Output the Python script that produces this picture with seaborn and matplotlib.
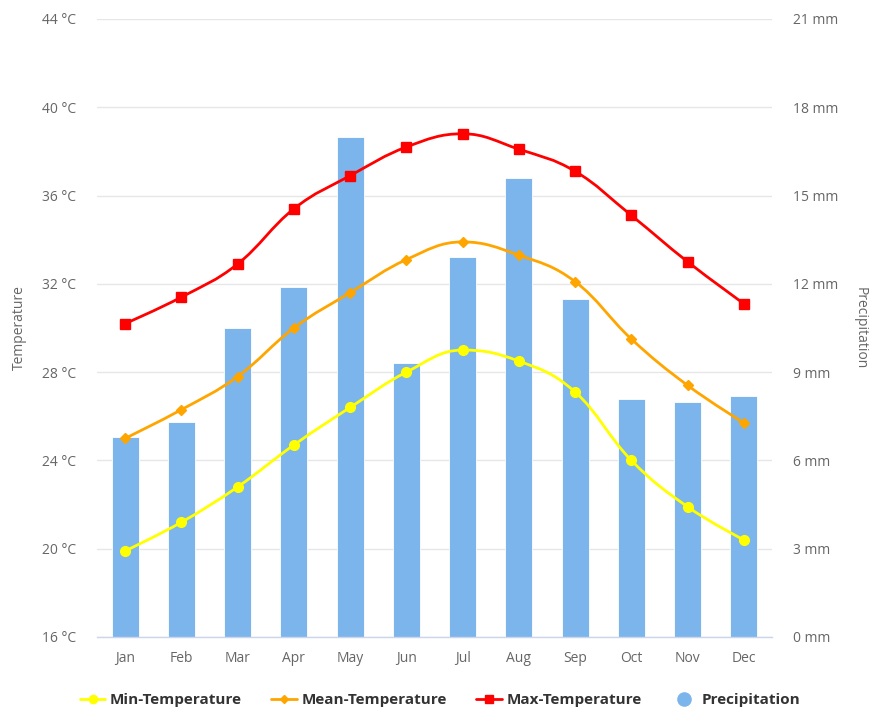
import matplotlib
matplotlib.use("Agg")
import matplotlib.pyplot as plt
import seaborn as sns
import numpy as np
from matplotlib.path import Path
from matplotlib.patches import PathPatch
from matplotlib.lines import Line2D

months = ["Jan", "Feb", "Mar", "Apr", "May", "Jun", "Jul", "Aug", "Sep", "Oct", "Nov", "Dec"]
min_temp = [19.9, 21.2, 22.8, 24.7, 26.4, 28.0, 29.0, 28.5, 27.1, 24.0, 21.9, 20.4]
mean_temp = [25.0, 26.3, 27.8, 30.0, 31.6, 33.1, 33.9, 33.3, 32.1, 29.5, 27.4, 25.7]
max_temp = [30.2, 31.4, 32.9, 35.4, 36.9, 38.2, 38.8, 38.1, 37.1, 35.1, 33.0, 31.1]
precip = [6.8, 7.3, 10.5, 11.9, 17.0, 9.3, 12.9, 15.6, 11.5, 8.1, 8.0, 8.2]

temp_ticks = [16, 20, 24, 28, 32, 36, 40, 44]
precip_ticks = [0, 3, 6, 9, 12, 15, 18, 21]

TEXT = "#666666"


def spline_path(xs, ys, smoothing=1.5):
    # highcharts-style spline: cubic bezier segments through every point
    n = len(xs)
    left = [(xs[i], ys[i]) for i in range(n)]
    right = [(xs[i], ys[i]) for i in range(n)]
    denom = smoothing + 1
    for i in range(1, n - 1):
        px, py = xs[i], ys[i]
        lx, ly = xs[i - 1], ys[i - 1]
        nx, ny = xs[i + 1], ys[i + 1]
        lcx = (smoothing * px + lx) / denom
        lcy = (smoothing * py + ly) / denom
        rcx = (smoothing * px + nx) / denom
        rcy = (smoothing * py + ny) / denom
        if rcx != lcx:
            corr = (rcy - lcy) * (rcx - px) / (rcx - lcx) + py - rcy
            lcy += corr
            rcy += corr
        if lcy > max(ly, py):
            lcy = max(ly, py)
            rcy = 2 * py - lcy
        elif lcy < min(ly, py):
            lcy = min(ly, py)
            rcy = 2 * py - lcy
        if rcy > max(py, ny):
            rcy = max(py, ny)
            lcy = 2 * py - rcy
        elif rcy < min(py, ny):
            rcy = min(py, ny)
            lcy = 2 * py - rcy
        left[i] = (lcx, lcy)
        right[i] = (rcx, rcy)
    verts = [(xs[0], ys[0])]
    codes = [Path.MOVETO]
    for i in range(1, n):
        verts += [right[i - 1], left[i], (xs[i], ys[i])]
        codes += [Path.CURVE4] * 3
    return Path(verts, codes)


sns.set_style("white")
plt.rcParams["font.family"] = ["Open Sans", "DejaVu Sans"]

fig = plt.figure(figsize=(8.71, 7.07), dpi=100)
ax = fig.add_axes([97 / 871, 1 - 637 / 707, 675 / 871, 618 / 707])
ax2 = ax.twinx()

# precipitation bars on the base axes so the lines sit on top
sns.barplot(x=months, y=precip, color="#7cb5ec", width=0.48, saturation=1,
            edgecolor="white", linewidth=0.6, ax=ax)
ax.set_xlim(-0.5, 11.5)
ax.set_ylim(0, 21)
ax.set_yticks(precip_ticks)
ax.set_yticklabels([f"{t} mm" for t in precip_ticks])
ax.yaxis.tick_right()
ax.yaxis.set_label_position("right")
ax.set_ylabel("Precipitation", rotation=270, color=TEXT, fontsize=10, labelpad=21)
ax.set_xlabel("")
ax.grid(axis="y", color="#e6e6e6", linewidth=1)
ax.set_axisbelow(True)

xs = np.arange(len(months))
series = [
    ("Min-Temperature", min_temp, "#ffff00", "o", 7),
    ("Mean-Temperature", mean_temp, "#ffa500", "D", 5),
    ("Max-Temperature", max_temp, "#ff0000", "s", 7),
]
handles = []
for name, vals, col, mk, ms in series:
    ax2.add_patch(PathPatch(spline_path(xs, vals), fill=False, edgecolor=col, linewidth=2, zorder=3))
    ax2.plot(xs, vals, linestyle="none", marker=mk, markersize=ms, color=col, zorder=4)
    handles.append(Line2D([], [], color=col, linewidth=2, marker=mk, markersize=ms * 0.85))
handles.append(Line2D([], [], linestyle="none", marker="o", markersize=9.5, color="#7cb5ec"))

ax2.set_ylim(16, 44)
ax2.set_yticks(temp_ticks)
ax2.set_yticklabels([f"{t} °C" for t in temp_ticks])
ax2.yaxis.tick_left()
ax2.yaxis.set_label_position("left")
ax2.set_ylabel("Temperature", color=TEXT, fontsize=10, labelpad=11)

for a in (ax, ax2):
    for s in a.spines.values():
        s.set_visible(False)
    a.tick_params(axis="y", length=0, colors=TEXT, labelsize=10, pad=15)
ax.tick_params(axis="x", length=0, colors=TEXT, labelsize=10, pad=10)
ax.spines["bottom"].set_visible(True)
ax.spines["bottom"].set_color("#ccd6eb")
ax.spines["bottom"].set_linewidth(1)

leg = fig.legend(handles, ["Min-Temperature", "Mean-Temperature", "Max-Temperature", "Precipitation"],
                 loc="center", bbox_to_anchor=(0.505, 0.01), ncol=4, frameon=False,
                 handlelength=1.7, columnspacing=1.9, handletextpad=0.3,
                 prop={"weight": "bold", "size": 11})
for t in leg.get_texts():
    t.set_color("#333333")

fig.savefig("out.png", dpi=100)
